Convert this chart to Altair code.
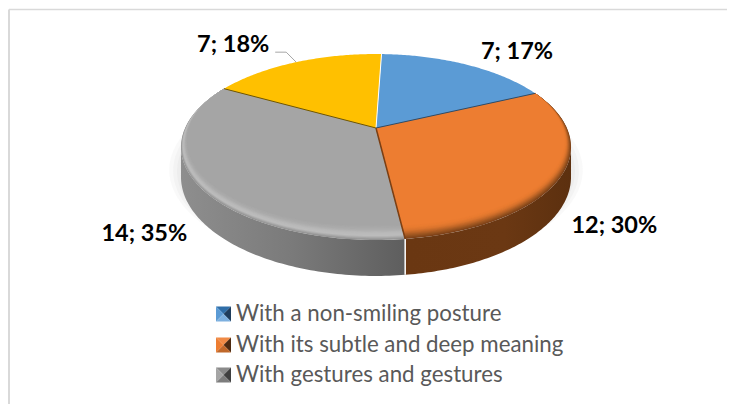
import numpy as np
import pandas as pd
import altair as alt

# ---- chart values
names = ["With a non-smiling posture", "With its subtle and deep meaning",
         "With gestures and gestures", "Other"]
values = [7, 12, 14, 7]
labels = ["7; 17%", "12; 30%", "14; 35%", "7; 18%"]
colors = ["#5B9BD5", "#ED7D31", "#A5A5A5", "#FFC000"]
legend_names = names[:3]

# ---- layout
W, H = 719, 396
AX, AY = 376, 128          # page position of the pie's apex
K, A, B, D = 0.2044, 89.1, 190.9, 28.6   # perspective of the tilted pie
START = 2.0
xs = alt.Scale(domain=[-(AX - 8), W - (AX - 8)])
ys = alt.Scale(domain=[H - (AY - 8), -(AY - 8)])
FONT = "Lato"


def rim(t, s=1.0):
    r = np.radians(t)
    X, Y = s * np.sin(r), s * np.cos(r)
    den = 1 + K * Y
    return B * X / den, -A * Y / den


def solid(pts):
    """Upper and lower edge of a convex outline, for an area mark."""
    pts = np.asarray(pts)
    q = np.vstack([pts, pts[0]])
    rows = []
    for x in np.unique(np.round(pts[:, 0], 3)):
        hit = []
        for (x0, y0), (x1, y1) in zip(q[:-1], q[1:]):
            lo, hi = min(x0, x1) - 1e-3, max(x0, x1) + 1e-3
            if lo <= x <= hi:
                if abs(x1 - x0) < 1e-6:
                    hit += [y0, y1]
                else:
                    f = min(1, max(0, (x - x0) / (x1 - x0)))
                    hit.append(y0 + f * (y1 - y0))
        rows.append((x, min(hit), max(hit)))
    return pd.DataFrame(rows, columns=["x", "y", "y2"])


def area(df, color, **kw):
    return alt.Chart(df).mark_area(color=color, **kw).encode(
        x=alt.X("x:Q", scale=xs, axis=None),
        y=alt.Y("y:Q", scale=ys, axis=None),
        y2="y2:Q",
    )


def sector(a, b, inset=0.0):
    ts = np.linspace(a, b, 90)
    band = np.interp(ts, [54, 65, 100, 180, 258, 285, 298.5, 360],
                     [0, .003, .032, .107, .032, .006, 0, 0])
    x, y = rim(ts, 1 - band * inset)
    return solid(np.vstack([[0, 0], np.column_stack([x, y])]))


def side(a, b):
    ts = np.linspace(a, b, 90)
    x, y = rim(ts)
    d = D / (1 + K * np.cos(np.radians(ts)))
    df = pd.DataFrame({"x": x, "y": y, "y2": y + d})
    return df.sort_values("x")


def seg(x0, y0, x1, y1, color, w=1.0):
    df = pd.DataFrame({"x": [x0], "y": [y0], "x1": [x1], "y1": [y1]})
    return alt.Chart(df).mark_rule(color=color, strokeWidth=w).encode(
        x=alt.X("x:Q", scale=xs, axis=None), y=alt.Y("y:Q", scale=ys, axis=None),
        x2="x1:Q", y2="y1:Q")


def P(px, py):
    return px - AX, py - AY


def blend(stops, n=16):
    """Evenly spaced (inset, colour) steps through the given colour stops."""
    pos = [s[0] for s in stops]
    rgb = np.array([[int(s[1][i:i + 2], 16) for i in (1, 3, 5)] for s in stops])
    out = []
    for t in np.linspace(0, 1, n):
        c = [int(round(np.interp(t, pos, rgb[:, j]))) for j in range(3)]
        out.append((t, "#%02x%02x%02x" % tuple(c)))
    return out


ang = START + np.concatenate([[0], np.cumsum(values)]) / sum(values) * 360
blue = (ang[0], ang[1]); orange = (ang[1], ang[2]); gray = (ang[2], ang[3]); yellow = (ang[3], ang[4])
TL = np.degrees(np.arccos(-K))   # where the side wall starts to show

layers = []

# soft shadow
for grow, op, drop in [(1.06, .16, 22), (1.04, .2, 23), (1.02, .26, 24), (1.0, .32, 24)]:
    ts = np.linspace(0, 360, 240)
    x, y = rim(ts)
    e = solid(np.column_stack([x * grow, y * grow + drop]))
    layers.append(area(e, "#dcdcdc", opacity=op))

# side walls
def grad(stops):
    return alt.Gradient(gradient="linear", x1=0, y1=0, x2=1, y2=0,
                        stops=[alt.GradientStop(offset=o, color=c) for o, c in stops])

layers.append(area(side(orange[1], 360 - TL), grad([(0, "#8e8e8e"), (.5, "#7a7a7a"), (1, "#5e5e5e")])))
layers.append(area(side(TL, orange[1]), grad([(0, "#6a3712"), (.6, "#6b3813"), (1, "#5c300f")])))

# top faces with their bevel: inset 0 is the rim, inset 1 the flat face
gray_steps = blend([(0, "#929292"), (.1, "#a2a2a2"), (.25, "#bcbcbc"), (.45, "#b9b9b9"), (.7, "#acacac"), (1, colors[2])])
orange_steps = blend([(0, "#7c4118"), (.2, "#9a5420"), (.4, "#bd6527"), (.6, "#da742d"), (.8, "#e87b30"), (1, colors[1])])
for w, c in gray_steps:
    layers.append(area(sector(*gray, w), c))
for w, c in orange_steps:
    layers.append(area(sector(*orange, w), c))
layers.append(area(sector(*blue), colors[0]))
layers.append(area(sector(*yellow), colors[3]))

# slice seams
x, y = rim(ang[0]); layers.append(seg(0, 0, x, y, "#ffffff", 1))
x, y = rim(ang[1]); layers.append(seg(0, 0, x, y, "#2f4b66", 1))
x, y = rim(ang[2]); layers.append(seg(0, 0, x, y, "#7a3f14", 1.5))
d = D / (1 + K * np.cos(np.radians(ang[2])))
layers.append(seg(x, y, x, y + d, "#ffffff", 1.5))
x, y = rim(ang[3]); layers.append(seg(0, 0, x, y, "#6f5500", 1))

# value labels, placed from each slice's middle on the rim
mids = (ang[:-1] + ang[1:]) / 2
mx, my = rim(mids)
label_shift = [(51, -13), (53, 50), (-53, 50), (-63, -17)]
lab = pd.DataFrame({
    "x": mx + np.array([s[0] for s in label_shift]),
    "y": my + np.array([s[1] for s in label_shift]),
    "t": labels,
})
layers.append(alt.Chart(lab).mark_text(font=FONT, fontWeight="bold", fontSize=23.5, color="#000000").encode(
    x=alt.X("x:Q", scale=xs, axis=None), y=alt.Y("y:Q", scale=ys, axis=None), text="t:N"))

# leader line of the last label
lx, ly = rim(mids[3])
layers.append(alt.Chart(pd.DataFrame({"x": [lx - 21, lx - 10, lx], "y": [ly - 10, ly - 10, ly], "o": [0, 1, 2]}))
              .mark_line(color="#A6A6A6", strokeWidth=1).encode(
    x=alt.X("x:Q", scale=xs, axis=None), y=alt.Y("y:Q", scale=ys, axis=None), order="o:Q"))

# legend
TRI = {"top": "M-1,-1L1,-1L0,0Z", "left": "M-1,-1L0,0L-1,1Z", "right": "M1,-1L0,0L1,1Z", "bottom": "M-1,1L1,1L0,0Z"}
shades = [
    {"top": "#2f6ea8", "left": "#5B9BD5", "right": "#1f3d5c", "bottom": "#7db0df"},
    {"top": "#f08a45", "left": "#ED7D31", "right": "#4d2a10", "bottom": "#c0682a"},
    {"top": "#8a8a8a", "left": "#A5A5A5", "right": "#3f3f3f", "bottom": "#7d7d7d"},
]
rows_y = [314, 345, 375]
for name, py, sh in zip(legend_names, rows_y, shades):
    lxx, lyy = P(223.5, py)
    one = pd.DataFrame({"x": [lxx], "y": [lyy]})
    for part, path in TRI.items():
        layers.append(alt.Chart(one).mark_point(shape=path, size=225, filled=True, opacity=1, color=sh[part], strokeWidth=0).encode(
            x=alt.X("x:Q", scale=xs, axis=None), y=alt.Y("y:Q", scale=ys, axis=None)))
    tx, ty = P(236, py)
    layers.append(alt.Chart(pd.DataFrame({"x": [tx], "y": [ty], "t": [name]})).mark_text(
        font=FONT, fontSize=22.3, color="#595959", align="left", baseline="middle").encode(
        x=alt.X("x:Q", scale=xs, axis=None), y=alt.Y("y:Q", scale=ys, axis=None), text="t:N"))

# chart frame
fx0, fy0 = P(9, 9.5)
fx1, fy1 = P(727, 404)
layers.append(seg(fx0, fy0, fx1, fy0, "#D9D9D9", 1.5))
layers.append(seg(fx0, fy0, fx0, fy1, "#D9D9D9", 2))

chart = alt.layer(*layers).properties(
    width=W, height=H, padding=0, autosize=alt.AutoSizeParams(type="none"),
    background="#ffffff",
).configure_view(stroke=None)

chart.save("out.html", embed_options={"renderer": "svg", "actions": False})
